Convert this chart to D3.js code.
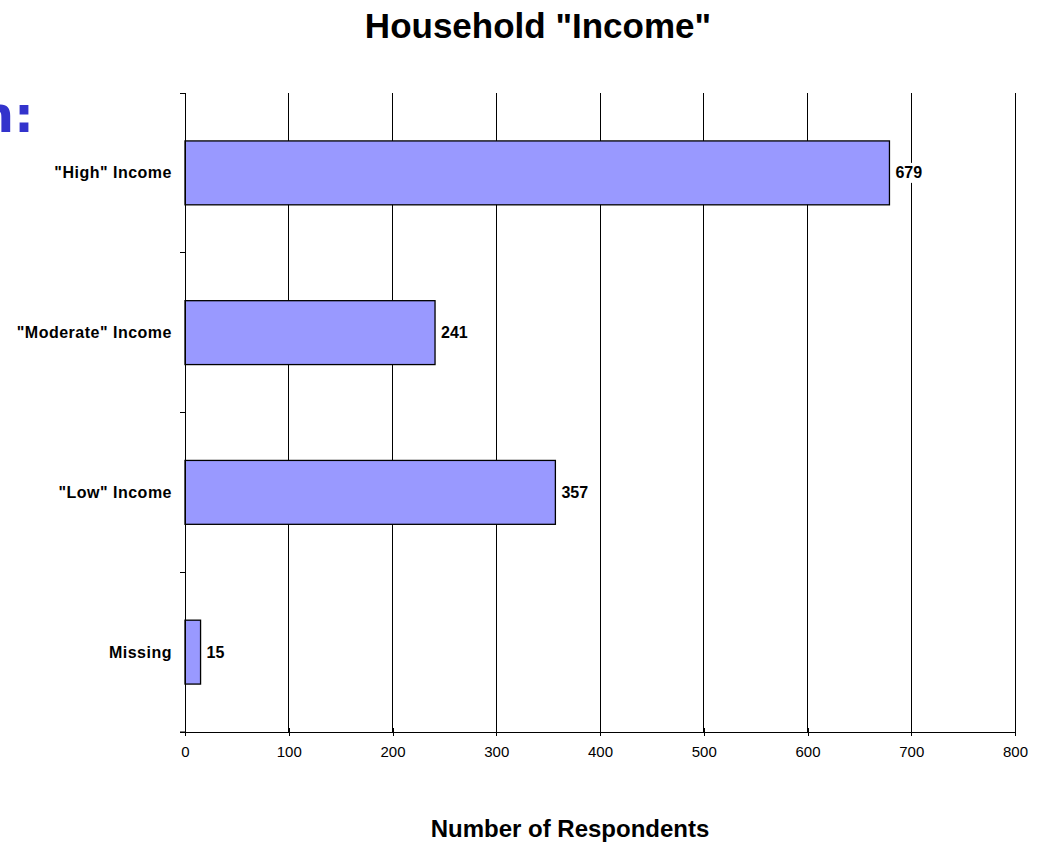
<!DOCTYPE html>
<html>
<head>
<meta charset="utf-8">
<script src="https://cdn.jsdelivr.net/npm/d3@7"></script>
<style>
  body { margin: 0; background: #fff; }
  svg { display: block; font-family: Arial, "Liberation Sans", sans-serif; }
  .x-axis .tick text { font-size: 15px; font-family: Arial, "Liberation Sans", sans-serif; fill: #000; }
</style>
</head>
<body>
<svg id="chart" width="1041" height="842"></svg>
<script>
// Household income groups and respondent counts
const categories = ['"High" Income', '"Moderate" Income', '"Low" Income', 'Missing'];
const respondents = [679, 241, 357, 15];
const xTicks = [0, 100, 200, 300, 400, 500, 600, 700, 800];

const svg = d3.select("#chart");
const margin = { left: 185, right: 26, top: 93, bottom: 110 };
const W = 1041, H = 842;

const x = d3.scaleLinear().domain([0, 800]).range([margin.left, W - margin.right]);
const y = d3.scaleBand().domain(categories).range([margin.top, H - margin.bottom])
  .paddingInner(0.6).paddingOuter(0.3);

// Slide heading fragment peeking in at the left edge
svg.append("text")
  .attr("x", 34).attr("y", 132)
  .attr("text-anchor", "end")
  .attr("font-family", "'DejaVu Sans', sans-serif")
  .attr("font-weight", "bold")
  .attr("font-size", 50)
  .attr("fill", "#3333cc")
  .text("n:");

// Title
svg.append("text")
  .attr("x", 538).attr("y", 38)
  .attr("text-anchor", "middle")
  .attr("font-weight", "bold")
  .attr("font-size", 35)
  .text('Household "Income"');

// Vertical gridlines
svg.append("g")
  .selectAll("line")
  .data(xTicks.slice(1))
  .join("line")
  .attr("x1", d => x(d)).attr("x2", d => x(d))
  .attr("y1", margin.top).attr("y2", H - margin.bottom)
  .attr("stroke", "#000").attr("stroke-width", 1)
  .attr("shape-rendering", "crispEdges");

// Bars
svg.append("g")
  .selectAll("rect")
  .data(categories)
  .join("rect")
  .attr("x", x(0))
  .attr("y", d => y(d))
  .attr("width", (d, i) => x(respondents[i]) - x(0))
  .attr("height", y.bandwidth())
  .attr("fill", "#9999ff")
  .attr("stroke", "#000")
  .attr("stroke-width", 1.3);

// Value labels with white backing
const labels = svg.append("g")
  .selectAll("g")
  .data(categories)
  .join("g")
  .attr("transform", (d, i) => `translate(${x(respondents[i]) + 5},${y(d) + y.bandwidth() / 2})`);
labels.append("rect")
  .attr("x", 0).attr("y", -10)
  .attr("width", 32).attr("height", 20)
  .attr("fill", "#fff");
labels.append("text")
  .attr("x", 1).attr("dy", "0.35em")
  .attr("font-weight", "bold")
  .attr("font-size", 16)
  .text((d, i) => respondents[i]);

// Category axis: line plus ticks on band boundaries
const yAxis = svg.append("g");
yAxis.append("line")
  .attr("x1", x(0)).attr("x2", x(0))
  .attr("y1", margin.top).attr("y2", H - margin.bottom)
  .attr("stroke", "#000").attr("shape-rendering", "crispEdges");
const boundaries = d3.range(categories.length + 1).map(i => margin.top + i * (H - margin.top - margin.bottom) / categories.length);
yAxis.selectAll("line.tick")
  .data(boundaries)
  .join("line")
  .attr("class", "tick")
  .attr("x1", x(0) - 5).attr("x2", x(0))
  .attr("y1", d => d).attr("y2", d => d)
  .attr("stroke", "#000").attr("shape-rendering", "crispEdges");
yAxis.selectAll("text")
  .data(categories)
  .join("text")
  .attr("x", x(0) - 13)
  .attr("y", d => y(d) + y.bandwidth() / 2)
  .attr("dy", "0.35em")
  .attr("text-anchor", "end")
  .attr("font-weight", "bold")
  .attr("font-size", 16)
  .attr("letter-spacing", "0.5px")
  .text(d => d);

// Value axis (ticks cross the axis line)
const xAxis = svg.append("g")
  .attr("class", "x-axis")
  .attr("transform", `translate(0,${H - margin.bottom})`)
  .call(d3.axisBottom(x).tickValues(xTicks).tickSize(4).tickSizeOuter(0).tickPadding(10));
xAxis.select(".domain").attr("stroke", "#000").attr("shape-rendering", "crispEdges");
xAxis.selectAll(".tick line").attr("y1", -4).attr("stroke", "#000").attr("shape-rendering", "crispEdges");
xAxis.append("line")
  .attr("x1", x(0) - 5).attr("x2", x(0))
  .attr("stroke", "#000");

// Axis title
svg.append("text")
  .attr("x", 570).attr("y", 837)
  .attr("text-anchor", "middle")
  .attr("font-weight", "bold")
  .attr("font-size", 24)
  .text("Number of Respondents");
</script>
</body>
</html>
